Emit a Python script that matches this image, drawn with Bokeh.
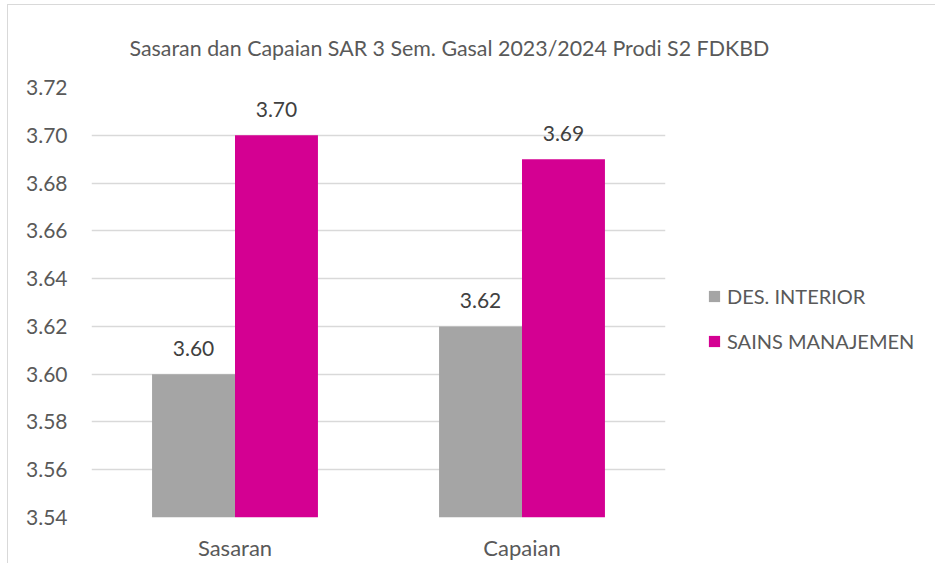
from bokeh.plotting import figure
from bokeh.models import (ColumnDataSource, FactorRange, Range1d, FixedTicker, NumeralTickFormatter,
                          LabelSet, Legend, LegendItem)
from bokeh.core.properties import value
from bokeh.transform import dodge
from bokeh.embed import file_html
from bokeh.resources import INLINE

categories = ["Sasaran", "Capaian"]
series_names = ["DES. INTERIOR", "SAINS MANAJEMEN"]
des_interior = [3.60, 3.62]
sains_manajemen = [3.70, 3.69]
y_ticks = [3.54, 3.56, 3.58, 3.60, 3.62, 3.64, 3.66, 3.68, 3.70, 3.72]
title_text = "Sasaran dan Capaian SAR 3 Sem. Gasal 2023/2024 Prodi S2 FDKBD"

FONT = "Lato"
TXT = "#595959"
GRAY = "#A5A5A5"
PINK = "#D40092"

src = ColumnDataSource(dict(
    cat=categories,
    a=des_interior,
    b=sains_manajemen,
    a_lbl=[f"{v:.2f}" for v in des_interior],
    b_lbl=[f"{v:.2f}" for v in sains_manajemen],
))

p = figure(frame_width=574, frame_height=430, output_backend="svg", toolbar_location=None,
           x_range=FactorRange(factors=categories, range_padding=0),
           y_range=Range1d(y_ticks[0], y_ticks[-1]),
           min_border_left=83, min_border_right=262, min_border_top=82, min_border_bottom=46)
p.outline_line_color = None
p.background_fill_color = "white"
p.border_fill_color = "white"
p.styles = {"border-left": "1px solid #d9d9d9", "border-top": "1px solid #d9d9d9",
            "margin-left": "7px", "margin-top": "4px"}

p.title.text = title_text
p.title.align = "left"
p.title.offset = 38
p.title.standoff = 54
p.title.text_font = FONT
p.title.text_font_size = "21.4px"
p.title.text_font_style = "normal"
p.title.text_color = TXT

bw = 0.289
ra = p.vbar(x=dodge("cat", -bw / 2, range=p.x_range), top="a", bottom=y_ticks[0], width=bw,
            source=src, fill_color=GRAY, line_color=None)
rb = p.vbar(x=dodge("cat", bw / 2, range=p.x_range), top="b", bottom=y_ticks[0], width=bw,
            source=src, fill_color=PINK, line_color=None)

for col, lbl, off in (("a", "a_lbl", -bw / 2), ("b", "b_lbl", bw / 2)):
    ls = LabelSet(x=dodge("cat", off, range=p.x_range), y=col, text=lbl, source=src,
                  text_align="center", text_baseline="middle", y_offset=26,
                  text_font=value(FONT), text_font_size=value("21px"), text_color="#404040")
    p.add_layout(ls)

p.yaxis.ticker = FixedTicker(ticks=y_ticks)
p.yaxis.formatter = NumeralTickFormatter(format="0.00")
for ax in (p.xaxis, p.yaxis):
    ax.axis_line_color = None
    ax.major_tick_line_color = None
    ax.minor_tick_line_color = None
    ax.major_tick_out = 0
    ax.major_label_text_font = FONT
    ax.major_label_text_color = TXT
p.yaxis.major_label_text_font_size = "21px"
p.xaxis.major_label_text_font_size = "22px"
p.yaxis.major_label_standoff = 24
p.xaxis.major_label_standoff = 16

p.xgrid.grid_line_color = None
p.ygrid.grid_line_color = "#D9D9D9"
p.ygrid.grid_line_width = 1.5

legend = Legend(items=[LegendItem(label=series_names[0], renderers=[ra]),
                       LegendItem(label=series_names[1], renderers=[rb])],
                location=(42, 164), orientation="vertical",
                glyph_width=14, glyph_height=14, label_standoff=6,
                label_height=20, spacing=21, padding=0, margin=0,
                label_text_font=FONT, label_text_font_size="20px", label_text_color=TXT,
                border_line_color=None, background_fill_alpha=0)
p.add_layout(legend, "right")

open("out.html", "w").write(file_html(p, INLINE))
